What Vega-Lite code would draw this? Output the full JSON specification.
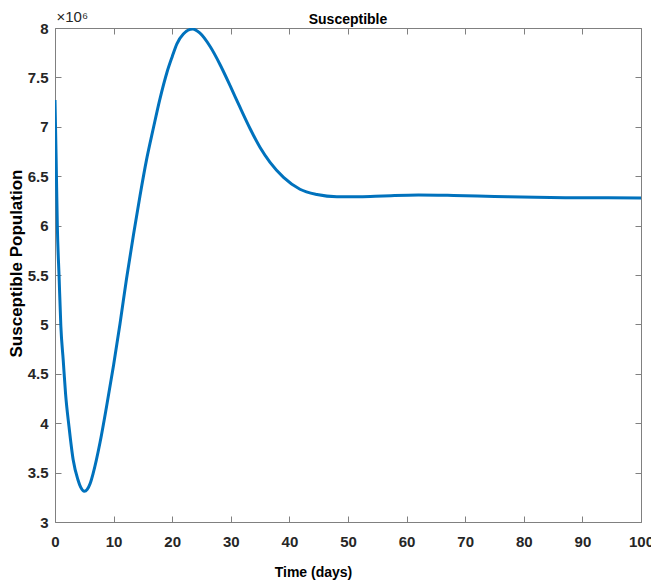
{
  "$schema": "https://vega.github.io/schema/vega-lite/v6.json",
  "autosize": {"type": "none"},
  "width": 586,
  "height": 494,
  "padding": {"left": 55, "top": 28, "right": 10, "bottom": 59},
  "background": "white",
  "config": {
    "view": {"stroke": null},
    "font": "Liberation Sans",
    "axis": {
      "domainColor": "#808080",
      "tickColor": "#808080",
      "grid": false,
      "labelColor": "#262626",
      "labelFont": "Liberation Sans",
      "labelFontSize": 15,
      "labelFontWeight": "bold",
      "titleColor": "#000000",
      "titleFont": "Liberation Sans",
      "titleFontSize": 14,
      "titleFontWeight": "bold"
    }
  },
  "title": {
    "text": "Susceptible",
    "font": "Liberation Sans",
    "fontSize": 14,
    "fontWeight": "bold",
    "color": "#000000",
    "anchor": "middle",
    "offset": -18
  },
  "data": {
    "values": [
      {"t": 0, "S": 7270000},
      {"t": 0.2, "S": 6660000},
      {"t": 0.4, "S": 5990000},
      {"t": 0.7, "S": 5480000},
      {"t": 1.0, "S": 4980000},
      {"t": 1.4, "S": 4640000},
      {"t": 1.8, "S": 4300000},
      {"t": 2.4, "S": 3960000},
      {"t": 3.1, "S": 3630000},
      {"t": 3.9, "S": 3430000},
      {"t": 4.4, "S": 3350000},
      {"t": 5.0, "S": 3310000},
      {"t": 5.5, "S": 3330000},
      {"t": 6.0, "S": 3390000},
      {"t": 6.5, "S": 3490000},
      {"t": 7.7, "S": 3810000},
      {"t": 8.8, "S": 4170000},
      {"t": 10.0, "S": 4590000},
      {"t": 11.1, "S": 5010000},
      {"t": 12.2, "S": 5460000},
      {"t": 13.4, "S": 5910000},
      {"t": 14.5, "S": 6300000},
      {"t": 15.6, "S": 6660000},
      {"t": 16.8, "S": 6990000},
      {"t": 17.9, "S": 7280000},
      {"t": 19.1, "S": 7550000},
      {"t": 20.0, "S": 7710000},
      {"t": 20.8, "S": 7840000},
      {"t": 21.9, "S": 7940000},
      {"t": 23.5, "S": 7990000},
      {"t": 24.7, "S": 7950000},
      {"t": 26.5, "S": 7810000},
      {"t": 28.2, "S": 7626000},
      {"t": 29.9, "S": 7414000},
      {"t": 31.6, "S": 7193000},
      {"t": 33.3, "S": 6980000},
      {"t": 35.0, "S": 6790000},
      {"t": 36.7, "S": 6640000},
      {"t": 39.0, "S": 6488000},
      {"t": 41.8, "S": 6368000},
      {"t": 44.7, "S": 6315000},
      {"t": 48.1, "S": 6293000},
      {"t": 52, "S": 6293000},
      {"t": 56, "S": 6300000},
      {"t": 62, "S": 6310000},
      {"t": 68, "S": 6305000},
      {"t": 75, "S": 6295000},
      {"t": 82, "S": 6286000},
      {"t": 90, "S": 6282000},
      {"t": 100, "S": 6280000}
    ]
  },
  "resolve": {"axis": {"x": "independent", "y": "independent"}},
  "layer": [
    {
      "mark": {"type": "line", "color": "#0072BD", "strokeWidth": 3, "interpolate": "monotone", "clip": true},
      "encoding": {
        "x": {
          "field": "t", "type": "quantitative",
          "scale": {"domain": [0, 100], "nice": false, "zero": false},
          "axis": {"orient": "bottom", "title": "Time (days)", "values": [0,10,20,30,40,50,60,70,80,90,100],
                   "tickSize": -6, "labelPadding": 18, "titlePadding": 16, "titleX": 258, "titleAnchor": null, "labelFlush": false}
        },
        "y": {
          "field": "S", "type": "quantitative",
          "scale": {"domain": [3000000, 8000000], "nice": false, "zero": false},
          "axis": {"orient": "left", "title": "Susceptible Population", "values": [3000000,3500000,4000000,4500000,5000000,5500000,6000000,6500000,7000000,7500000,8000000],
                   "labelExpr": "datum.value / 1000000", "tickSize": -6, "labelPadding": 13, "titleY": 235, "titlePadding": 2, "titleFontSize": 17}
        }
      }
    },
    {
      "mark": {"type": "line", "color": "#0072BD", "strokeWidth": 3, "interpolate": "monotone", "clip": true, "opacity": 0},
      "encoding": {
        "x": {
          "field": "t", "type": "quantitative",
          "axis": {"orient": "top", "title": "×10⁶", "labels": false, "values": [0,10,20,30,40,50,60,70,80,90,100],
                   "tickSize": -6, "titleX": 1, "titleY": -4, "titleAlign": "left", "titleBaseline": "bottom",
                   "titleFontWeight": "normal", "titleColor": "#262626", "titleFontSize": 15}
        },
        "y": {
          "field": "S", "type": "quantitative",
          "axis": {"orient": "right", "title": null, "labels": false, "values": [3000000,3500000,4000000,4500000,5000000,5500000,6000000,6500000,7000000,7500000,8000000],
                   "tickSize": -6}
        }
      }
    }
  ]
}
